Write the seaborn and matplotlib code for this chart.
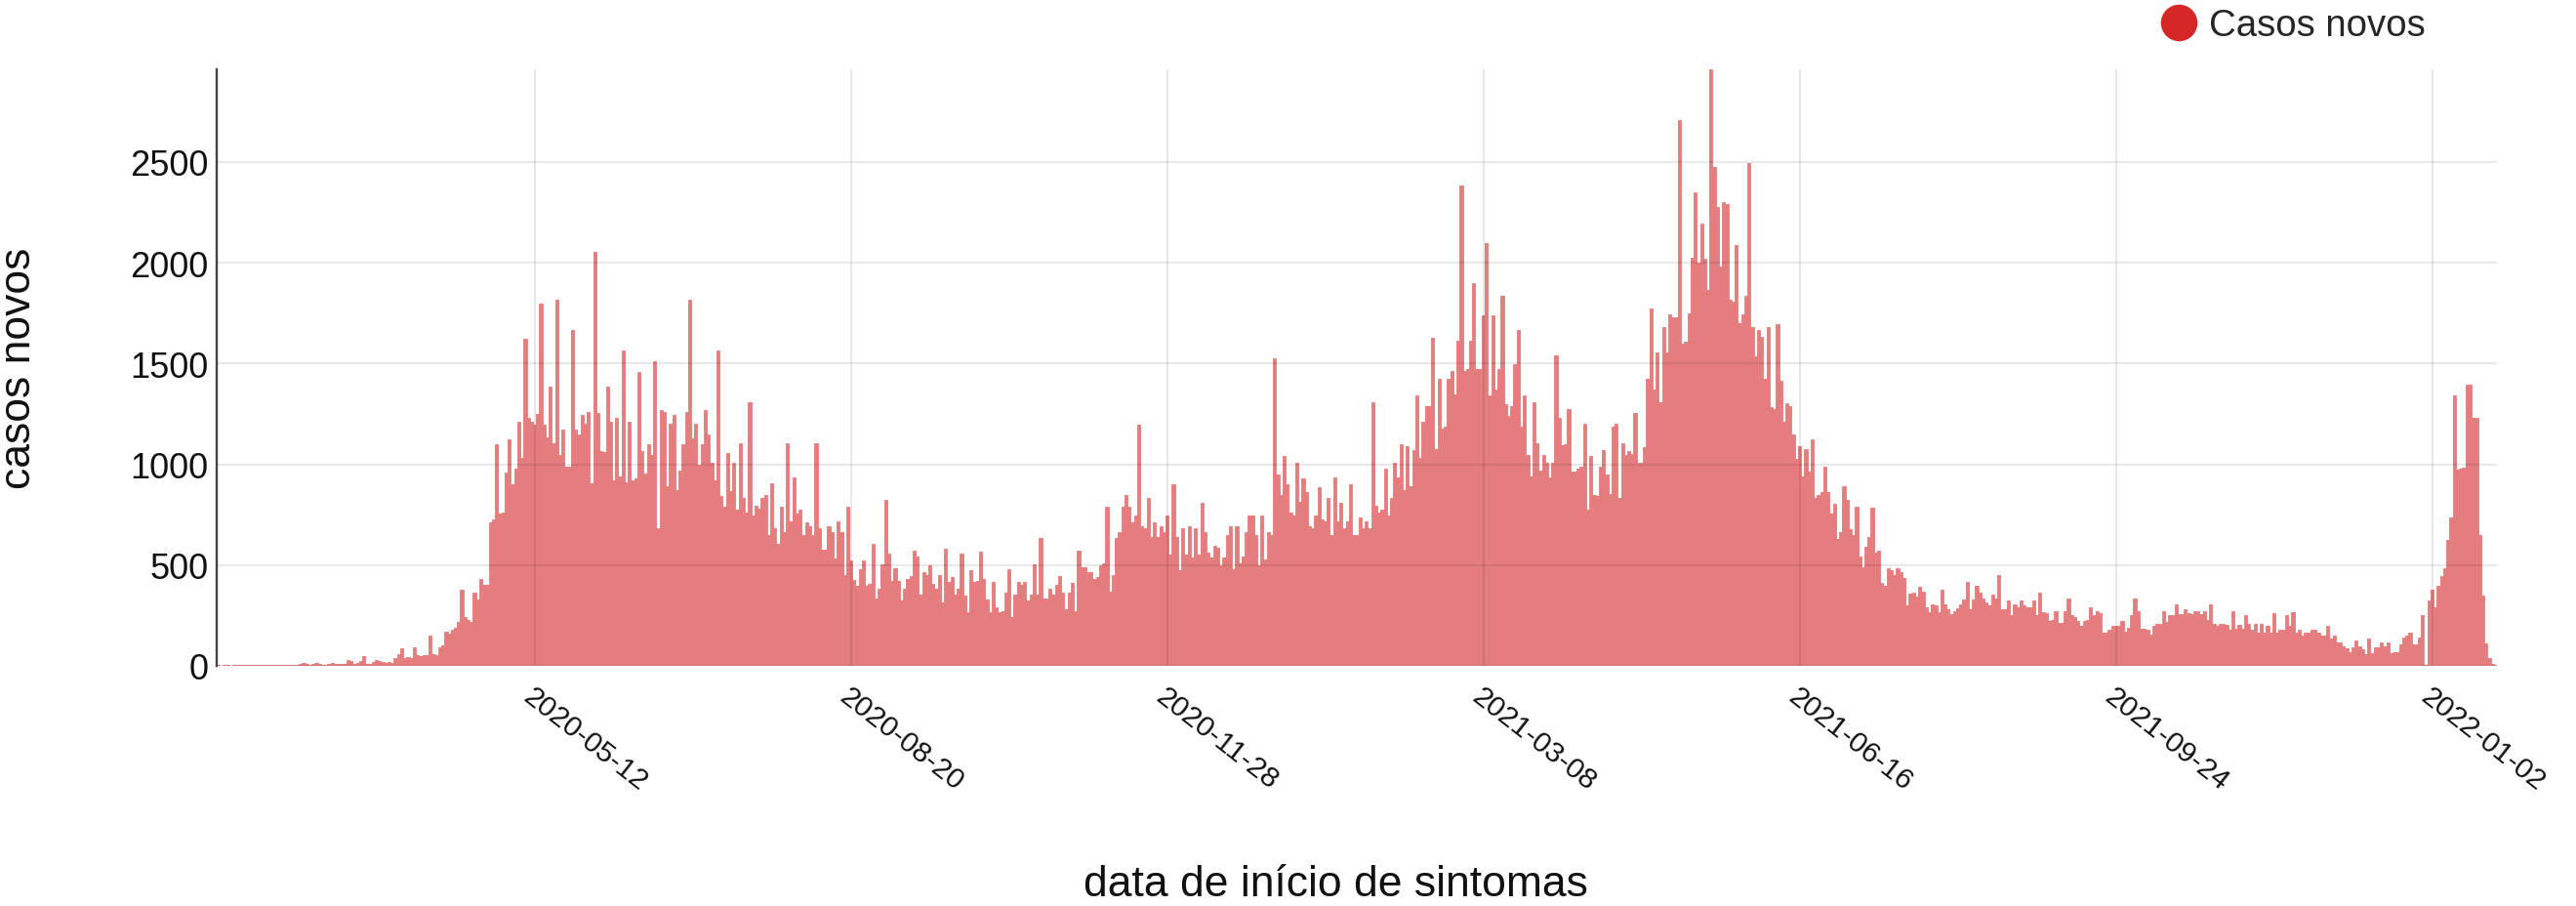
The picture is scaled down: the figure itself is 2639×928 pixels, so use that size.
import numpy as np
import pandas as pd
import seaborn as sns
import matplotlib.pyplot as plt
from matplotlib.lines import Line2D

# Casos novos por dia de início de sintomas, a partir de 2020-02-02 (dia 0)
casos_fev_mar = [3, 2, 4, 3, 2, 5, 3, 4, 3, 5, 4, 3, 5, 4, 6, 4, 5, 3, 6, 5,
                 4, 6, 5, 7, 5, 6, 8]
casos_mar_abr = [15, 10, 5, 8, 15, 10, 5, 5, 8, 15, 10, 8, 8, 10, 30, 25, 10, 15, 25, 50,
                 10, 8, 20, 30, 25, 20, 15, 20, 15, 40, 60, 85, 40, 45, 40, 90, 55, 50, 55, 55,
                 150, 60, 55, 90, 100, 170, 160, 180, 190, 220, 380, 240, 230]
casos_abr_jul = [220, 365, 330, 430, 400, 400, 712, 725, 1100, 755,
                 760, 960, 1125, 900, 980, 1210, 1030, 1625, 1230, 1210,
                 1195, 1250, 1795, 1195, 1135, 1385, 1105, 1815, 1045, 1170,
                 990, 990, 1665, 1170, 1150, 1245, 1200, 1260, 905, 2055,
                 1255, 1065, 1060, 1385, 1210, 920, 1230, 940, 1565, 910,
                 1210, 920, 930, 1460, 1065, 955, 1100, 1045, 1510, 685,
                 1270, 1260, 890, 1200, 1245, 870, 970, 1100, 1260, 1815,
                 1130, 1200, 1000, 1100, 1270, 1150, 1010, 920, 1565, 845]
casos_jul_set = [790, 1055, 865, 1010, 775, 1105, 835, 760, 1310, 745,
                 795, 780, 835, 850, 650, 905, 685, 605, 790, 665,
                 1105, 715, 935, 755, 775, 650, 712, 695, 650, 1105,
                 685, 575, 575, 695, 665, 535, 715, 665, 450, 790,
                 525, 425, 395, 480, 525, 395, 405, 605, 335, 385,
                 505, 825, 555, 420, 485, 420, 325, 385, 430, 445,
                 570, 545, 355, 465, 450, 500, 405, 385, 450, 315,
                 580, 415, 440, 355, 385, 555, 350, 265, 475, 415]
casos_set_dez = [420, 565, 430, 330, 265, 415, 290, 265, 270, 365,
                 480, 240, 355, 415, 400, 415, 325, 355, 505, 355,
                 635, 335, 335, 385, 355, 400, 445, 365, 280, 365,
                 410, 270, 570, 490, 490, 465, 465, 430, 440, 500,
                 510, 790, 370, 450, 635, 665, 790, 850, 790, 712,
                 745, 1195, 695, 685, 835, 640, 712, 640, 695, 665,
                 745, 550, 900, 640, 475, 685, 550, 695, 540, 685,
                 550, 810, 665, 560, 540, 595, 585, 500, 540, 650,
                 695]
casos_dez_mar = [480,
                 695, 510, 545, 665, 745, 745, 650, 500, 745, 530,
                 665, 650, 1525, 950, 850, 1040, 900, 760, 745, 1010,
                 815, 930, 860, 695, 685, 745, 885, 725, 715, 835,
                 650, 935, 715, 810, 685, 715, 900, 650, 650, 735,
                 685, 715, 685, 1310, 795, 760, 775, 980, 745, 835,
                 1010, 935, 1100, 870, 1090, 890, 1070, 1340, 1030, 1210,
                 1290, 1290, 1630, 1075, 1425, 1175, 1185, 1425, 1465, 1345,
                 1615, 2385, 1465, 1475, 1615, 1900, 1475, 1475, 1740, 2100]
casos_mar_mai = [1340, 1740, 1370, 1475, 1835, 1300, 1240, 1290, 1495, 1665,
                 1185, 1340, 1045, 940, 1310, 1105, 970, 1045, 1010, 935,
                 1010, 1540, 1230, 1095, 1100, 1275, 965, 965, 980, 990,
                 1200, 775, 1040, 850, 845, 990, 1070, 950, 855, 1185,
                 1200, 835, 1105, 1045, 1065, 1050, 1255, 1010, 1010, 1085,
                 1425, 1775, 1370, 1555, 1310, 1680, 1555, 1745, 1730, 1730,
                 2710, 1600, 1610, 1750, 2025, 2350, 2000, 2195, 2020, 1865,
                 2960, 2475, 2275, 1980, 2300, 2290, 1815, 1805, 2090]
casos_mai_ago = [1700, 1745, 1835, 2495, 1680, 1535, 1665, 1635, 1425, 1680,
                 1285, 1275, 1695, 1415, 1210, 1305, 1290, 1150, 1025, 1090,
                 940, 1075, 965, 1125, 835, 850, 860, 990, 860, 755,
                 805, 630, 665, 890, 825, 680, 650, 790, 545, 490,
                 590, 640, 785, 560, 570, 410, 395, 485, 475, 450,
                 485, 465, 435, 300, 360, 365, 345, 390, 370, 290,
                 265, 305, 300, 265, 380, 305, 280, 255, 270, 285,
                 305, 330, 415, 280, 330, 395, 365, 335, 315, 300]
casos_ago_nov = [355, 335, 450, 280, 280, 325, 250, 305, 290, 325,
                 300, 290, 290, 325, 250, 365, 265, 260, 225, 230,
                 270, 215, 215, 270, 335, 250, 240, 225, 200, 225,
                 230, 290, 250, 270, 260, 165, 165, 180, 200, 200,
                 200, 225, 170, 190, 250, 335, 270, 185, 185, 180,
                 155, 200, 210, 210, 270, 220, 250, 250, 305, 255,
                 255, 280, 260, 255, 270, 270, 255, 270, 230, 305,
                 210, 200, 210, 210, 205, 180, 270, 185, 205, 185,
                 250]
casos_nov_jan = [210, 180, 210, 165, 210, 165, 200, 165, 260, 165,
                 180, 180, 250, 200, 265, 165, 180, 150, 165, 165,
                 180, 180, 165, 150, 150, 200, 135, 150, 115, 115,
                 95, 85, 70, 90, 125, 95, 80, 60, 135, 65,
                 90, 90, 115, 95, 115, 65, 70, 70, 105, 140,
                 150, 165, 105, 105, 140, 250, 5,
                 325, 380, 290, 395, 445, 485, 625, 735, 1340, 975,
                 980, 985, 1395, 1395, 1230, 1230, 650, 350, 110, 40,
                 12, 5]

casos_novos = (casos_fev_mar + casos_mar_abr + casos_abr_jul + casos_jul_set +
               casos_set_dez + casos_dez_mar + casos_mar_mai + casos_mai_ago +
               casos_ago_nov + casos_nov_jan)

tick_dias = [100, 200, 300, 400, 500, 600, 700]
tick_rotulos = ["2020-05-12", "2020-08-20", "2020-11-28", "2021-03-08",
                "2021-06-16", "2021-09-24", "2022-01-02"]
y_ticks = [0, 500, 1000, 1500, 2000, 2500]

df = pd.DataFrame({"dia": np.arange(len(casos_novos)), "casos": casos_novos})

sns.set_style("white")
plt.rcParams["font.family"] = ["Liberation Sans", "DejaVu Sans"]

W, H = 2639, 929
fig = plt.figure(figsize=(W / 100, H / 100), dpi=100)
ax = fig.add_axes([222 / W, 1 - 683 / H, (2558 - 222) / W, (683 - 72) / H])

cor_barra = "#e57c7d"
sns.histplot(data=df, x="dia", weights="casos", discrete=True, color=cor_barra,
             alpha=1, edgecolor=cor_barra, linewidth=0.6, ax=ax)

ax.set_xlim(-0.5, len(casos_novos) - 0.5)
ax.set_ylim(0, max(casos_novos))
ax.set_yticks(y_ticks)
ax.set_xticks(tick_dias)
ax.set_xticklabels(tick_rotulos, rotation=-38, ha="left", va="top",
                   rotation_mode="anchor")

# grade translúcida por cima das barras (fica um pouco mais escura dentro delas)
ax.grid(True, color="black", alpha=0.085, linewidth=1.6)
ax.set_axisbelow(False)
for s in ["top", "right", "bottom"]:
    ax.spines[s].set_visible(False)
ax.spines["left"].set_color("#444444")
ax.spines["left"].set_linewidth(1.7)

ax.tick_params(axis="y", length=0, labelsize=26, pad=6, labelcolor="#111111")
ax.tick_params(axis="x", length=0, labelsize=21.5, pad=12, labelcolor="#111111")

ax.set_xlabel("data de início de sintomas", fontsize=32, color="#111111")
ax.set_ylabel("casos novos", fontsize=32, color="#111111")
ax.xaxis.set_label_coords(0.4906, -0.365)
ax.xaxis.label.set_va("center")
ax.yaxis.set_label_coords(-0.0865, 0.5)
ax.yaxis.label.set_va("center")

handle = Line2D([0], [0], marker="o", color="none", markerfacecolor="#d62728",
                markeredgecolor="none", markersize=27)
fig.legend([handle], ["Casos novos"], loc="center left",
           bbox_to_anchor=(2213 / W, 1 - 27 / H), frameon=False, fontsize=27.6,
           handlelength=1.0, handletextpad=0.3, borderpad=0, borderaxespad=0)

fig.savefig("out.png", dpi=100)
